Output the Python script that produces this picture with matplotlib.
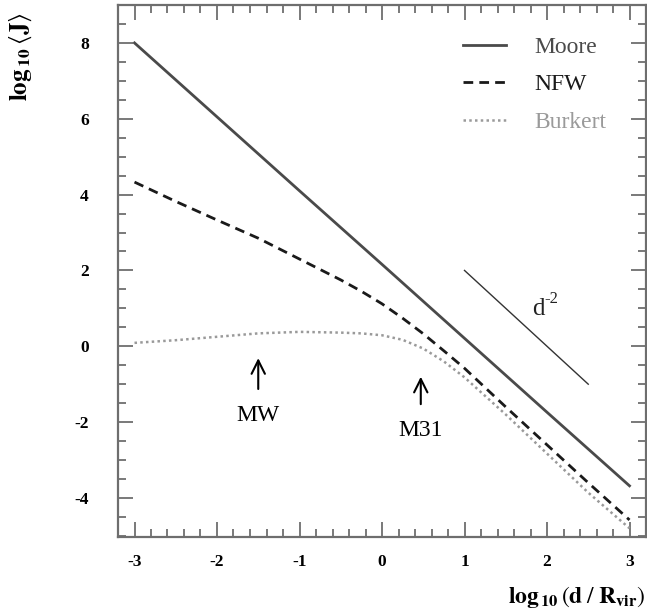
import matplotlib
matplotlib.use("Agg")
import matplotlib.pyplot as plt
from matplotlib.ticker import MultipleLocator

plt.rcParams['font.family'] = ['Liberation Serif', 'DejaVu Serif']
plt.rcParams['mathtext.fontset'] = 'stix'
plt.rcParams['axes.unicode_minus'] = False

# ---- data ----
moore_x = [-3, -2, -1, 0, 1, 2, 3]
moore_y = [8.0, 6.05, 4.1, 2.16, 0.21, -1.74, -3.68]

nfw_x = [-3, -2.5, -2, -1.5, -1, -0.5, -0.25, 0, 0.25, 0.5, 0.75, 1, 1.5, 2, 2.5, 3]
nfw_y = [4.33, 3.82, 3.33, 2.85, 2.30, 1.75, 1.45, 1.12, 0.74, 0.33, -0.12, -0.58, -1.6, -2.6, -3.6, -4.58]

burk_x = [-3, -2.5, -2, -1.5, -1, -0.5, -0.25, 0, 0.25, 0.5, 0.75, 1, 1.5, 2, 2.5, 3]
burk_y = [0.09, 0.16, 0.25, 0.34, 0.38, 0.36, 0.34, 0.29, 0.17, -0.06, -0.40, -0.82, -1.8, -2.83, -3.86, -4.8]

ref_x = [1, 2.5]
ref_y = [2.0, -1.0]

x_ticks = [-3, -2, -1, 0, 1, 2, 3]
y_ticks = [-4, -2, 0, 2, 4, 6, 8]

fig = plt.figure(figsize=(6.47, 6.12), dpi=100)
ax = fig.add_axes([118/647, 1-537/612, (646-118)/647, (537-5)/612])

ax.plot(moore_x, moore_y, color='#4a4a4a', lw=2.0, label='Moore')
ax.plot(nfw_x, nfw_y, color='#1a1a1a', lw=2.0, ls=(0, (3.5, 2.2)), label='NFW')
ax.plot(burk_x, burk_y, color='#9a9a9a', lw=1.8, ls=(0, (1, 1.3)), label='Burkert')
ax.plot(ref_x, ref_y, color='#333333', lw=1.0)

ax.text(1.82, 0.98, 'd', fontsize=18, ha='left', va='center', color='#222222')
ax.annotate('-2', xy=(1.82, 0.98), xytext=(8.5, 7), textcoords='offset points',
            fontsize=12, ha='left', va='center', color='#222222')

ax.annotate('', xy=(-1.5, -0.24), xytext=(-1.5, -1.2),
            arrowprops=dict(arrowstyle='->', lw=1.5, color='black', mutation_scale=24))
ax.text(-1.5, -1.82, 'MW', fontsize=17, ha='center', va='center')
ax.annotate('', xy=(0.47, -0.73), xytext=(0.47, -1.6),
            arrowprops=dict(arrowstyle='->', lw=1.5, color='black', mutation_scale=24))
ax.text(0.47, -2.22, 'M31', fontsize=17, ha='center', va='center')

ax.set_xlim(-3.2, 3.2)
ax.set_ylim(-5.03, 9.0)
ax.set_xticks(x_ticks)
ax.set_yticks(y_ticks)
ax.xaxis.set_minor_locator(MultipleLocator(0.2))
ax.yaxis.set_minor_locator(MultipleLocator(0.5))
ax.tick_params(which='both', direction='in', top=True, right=True, color='#6e6e6e', width=1.3)
ax.tick_params(which='major', length=11)
ax.tick_params(which='minor', length=6)
ax.tick_params(axis='x', which='major', pad=12)
ax.tick_params(axis='y', which='major', pad=21)
for lab in ax.get_xticklabels() + ax.get_yticklabels():
    lab.set_fontweight('bold')
    lab.set_fontsize(12.5)
for s in ax.spines.values():
    s.set_color('#6e6e6e')
    s.set_linewidth(1.6)

leg = ax.legend(loc='upper right', bbox_to_anchor=(0.965, 0.981), frameon=False,
                fontsize=17, handlelength=1.8, labelspacing=0.68, handletextpad=1.2)
for t, c in zip(leg.get_texts(), ['#4a4a4a', '#1a1a1a', '#9a9a9a']):
    t.set_color(c)

fig.text(0.032, 1-57/612, r'$\mathbf{log}_{\,\mathbf{10}}\,\langle\mathbf{J}\rangle$',
         rotation=90, ha='center', va='center', fontsize=18)
fig.text(508/647, 1-597/612, r'$\mathbf{log}_{\,\mathbf{10}}\,(\mathbf{d}\;/\;\mathbf{R}_{\mathbf{vir}})$',
         ha='left', va='center', fontsize=17)

fig.savefig('out.png', dpi=100)
